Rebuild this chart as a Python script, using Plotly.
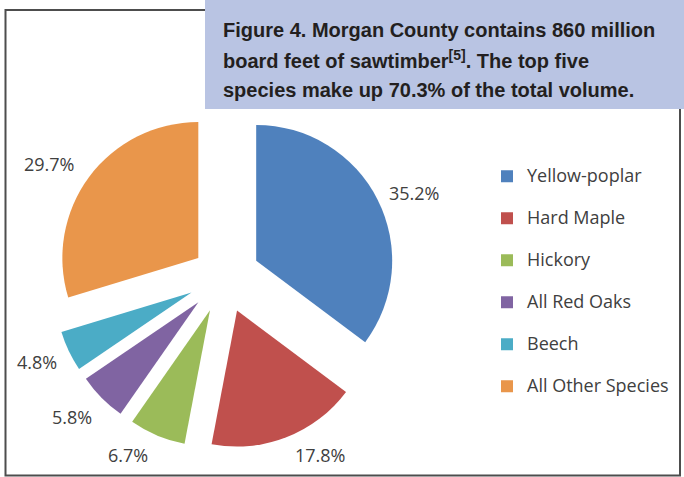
import plotly.graph_objects as go

# ---- data ----
categories = ["Yellow-poplar", "Hard Maple", "Hickory", "All Red Oaks", "Beech", "All Other Species"]
volume_pct = [35.2, 17.8, 6.7, 5.8, 4.8, 29.7]
slice_colors = ["#4F81BD", "#C0504D", "#9BBB59", "#8064A2", "#4BACC6", "#E9964B"]
title_lines = [
    "Figure 4. Morgan County contains 860 million",
    "board feet of sawtimber<sup>[5]</sup>. The top five",
    "species make up 70.3% of the total volume.",
]

# ---- layout helpers (pixel -> paper) ----
W, H = 684, 477
def px(x):
    return x / W
def py(y):
    return 1 - y / H

slice_pull = [0.265, 0.265, 0.265, 0.265, 0.265, 0.235]
# label anchor positions (layout, pixels)
label_pos = [(414, 193), (320, 455), (128, 455), (72, 417), (37, 362), (49, 164)]

legend_labels = [f"<span style='font-size:18px'>{c}</span><br> " for c in categories]

fig = go.Figure()
fig.add_trace(go.Pie(
    labels=legend_labels,
    values=volume_pct,
    sort=False,
    direction="clockwise",
    rotation=0,
    pull=slice_pull,
    marker=dict(colors=slice_colors, line=dict(width=0)),
    textinfo="none",
    hoverinfo="label+percent",
    domain=dict(x=[px(52), px(396)], y=[py(449), py(105)]),
))

annotations = []
for v, (lx, ly) in zip(volume_pct, label_pos):
    annotations.append(dict(
        x=px(lx), y=py(ly), xref="paper", yref="paper",
        text=f"{v:.1f}%", showarrow=False, xanchor="center", yanchor="middle",
        font=dict(family="Open Sans, sans-serif", size=18, color="#404040"),
    ))

for i, line in enumerate(title_lines):
    annotations.append(dict(
        x=px(221), y=py(30 + 30 * i), xref="paper", yref="paper",
        text=line, showarrow=False, xanchor="left", yanchor="middle", align="left",
        font=dict(family="Liberation Sans, Arial, sans-serif", size=20,
                  color="#231F20", weight="bold"),
    ))

shapes = [
    dict(type="rect", xref="paper", yref="paper",
         x0=px(5.5), x1=px(680), y0=py(475.5), y1=py(10),
         line=dict(color="#4D4D4D", width=2), fillcolor="rgba(0,0,0,0)", layer="below"),
    dict(type="rect", xref="paper", yref="paper",
         x0=px(205), x1=1.0, y0=py(109), y1=1.0,
         line=dict(width=0), fillcolor="#B9C4E3", layer="above"),
]

fig.update_layout(
    width=W, height=H,
    margin=dict(l=0, r=0, t=0, b=0),
    paper_bgcolor="white",
    plot_bgcolor="white",
    showlegend=True,
    legend=dict(
        x=px(487), y=py(160), xanchor="left", yanchor="top",
        font=dict(family="Open Sans, sans-serif", size=15, color="#404040"),
        valign="top",
        bgcolor="rgba(0,0,0,0)",
    ),
    shapes=shapes,
    annotations=annotations,
)

fig.write_html("out.html", config={"displayModeBar": False},
               post_script="document.body.style.margin='0';")
